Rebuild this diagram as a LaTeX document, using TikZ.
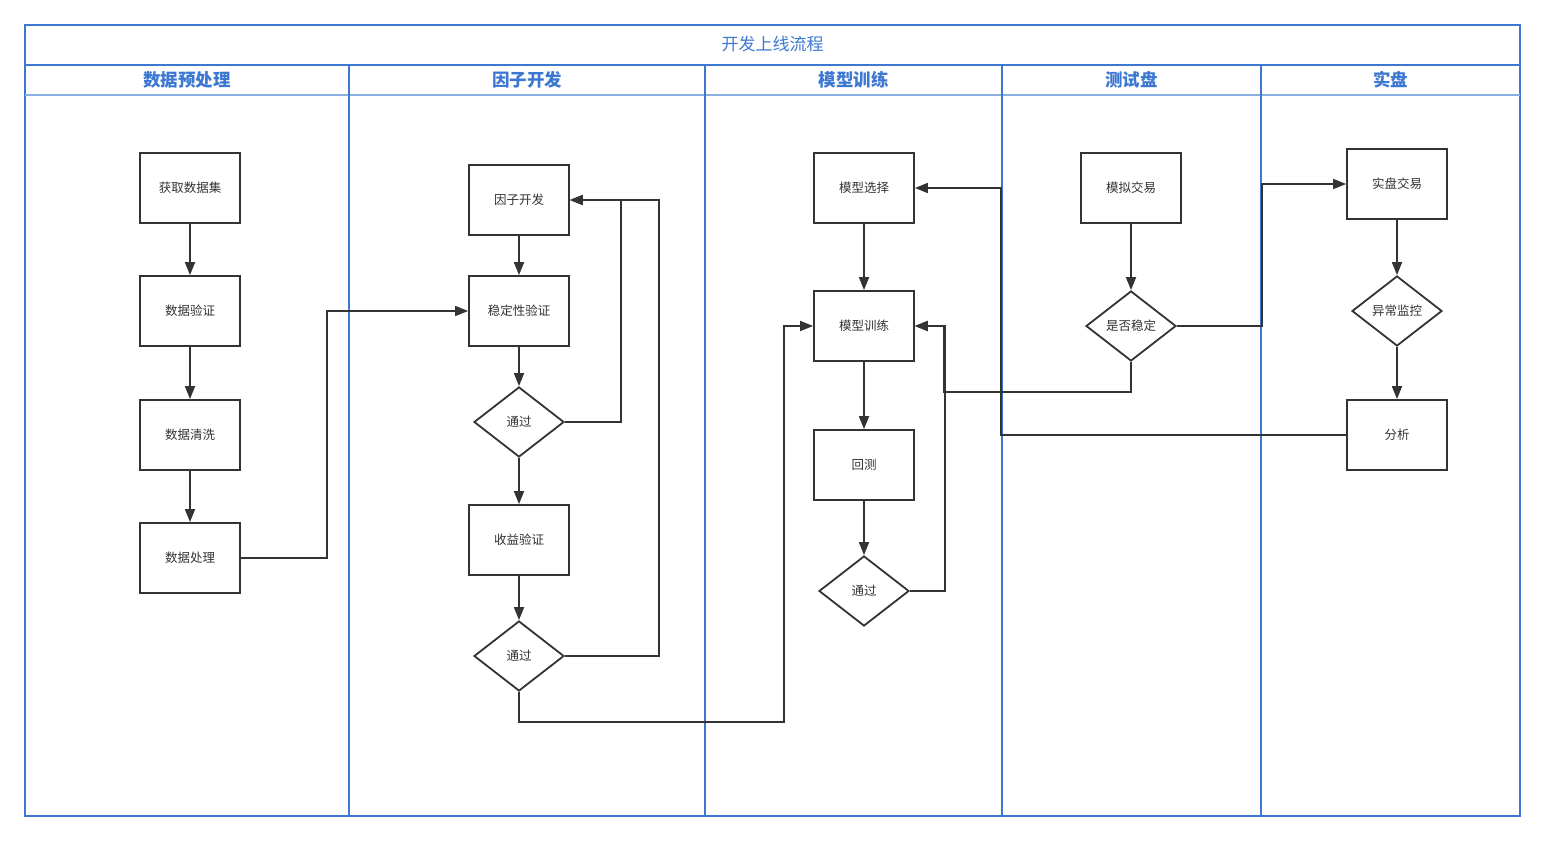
\documentclass[tikz,border=0pt]{standalone}
\usepackage{fontspec}
\setmainfont{Noto Sans CJK SC}
\usetikzlibrary{shapes.geometric,arrows.meta}
\definecolor{laneblue}{RGB}{60,120,210}
\definecolor{lanelight}{RGB}{140,175,225}
\definecolor{boxgray}{RGB}{51,51,51}
\tikzset{
  proc/.style={draw=boxgray,line width=1.8pt,minimum width=100pt,minimum height=70pt,
    text=boxgray,font=\fontsize{12.5}{14}\selectfont},
  test/.style={diamond,draw=boxgray,line width=1.8pt,minimum width=90pt,minimum height=70pt,
    inner sep=1pt,text=boxgray,font=\fontsize{12.5}{14}\selectfont},
  flow/.style={draw=boxgray,line width=1.8pt,-{Triangle[length=13pt,width=10pt]}},
  lanehead/.style={text=laneblue,font=\fontsize{17.5}{20}\selectfont\bfseries}
}

\begin{document}
\begin{tikzpicture}[x=1pt,y=-1pt]
  \useasboundingbox (0,0) rectangle (1545,842);
  % pool and lanes
  \draw[laneblue,line width=1.2pt] (25,25) rectangle (1520,816);
  \draw[laneblue,line width=1.2pt] (25,65) -- (1520,65);
  \draw[lanelight,line width=1.6pt] (25,95) -- (1520,95);
  \node[text=laneblue,font=\fontsize{17}{20}\selectfont] (pool) at (772.5,44) {开发上线流程};
  \foreach \x in {349,705,1002,1261}
    \draw[laneblue,line width=1.2pt] (\x,65) -- (\x,816);
  \foreach \l/\r/\t [count=\i] in {25/349/数据预处理, 349/705/因子开发, 705/1002/模型训练,
      1002/1261/测试盘, 1261/1520/实盘}
    \node[lanehead] (lane\i) at ({(\l+\r)/2},80) {\t};

  % steps
  \node[proc] (get)   at (190,188) {获取数据集};
  \node[proc] (check) at (190,311) {数据验证};
  \node[proc] (clean) at (190,435) {数据清洗};
  \node[proc] (prep)  at (190,558) {数据处理};

  \node[proc] (fdev)  at (519,200) {因子开发};
  \node[proc] (stab)  at (519,311) {稳定性验证};
  \node[test] (pass1) at (519,422) {通过};
  \node[proc] (ret)   at (519,540) {收益验证};
  \node[test] (pass2) at (519,656) {通过};

  \node[proc] (msel)   at (864,188) {模型选择};
  \node[proc] (mtrain) at (864,326) {模型训练};
  \node[proc] (btest)  at (864,465) {回测};
  \node[test] (pass3)  at (864,591) {通过};

  \node[proc] (sim)    at (1131,188) {模拟交易};
  \node[test] (stable) at (1131,326) {是否稳定};

  \node[proc] (real)    at (1397,184) {实盘交易};
  \node[test] (monitor) at (1397,311) {异常监控};
  \node[proc] (anal)    at (1397,435) {分析};

  % connectors
  \foreach \a/\b in {get/check, check/clean, clean/prep, fdev/stab, stab/pass1, pass1/ret,
      ret/pass2, msel/mtrain, mtrain/btest, btest/pass3, sim/stable, real/monitor, monitor/anal}
    \draw[flow] (\a) -- (\b);
  \draw[flow] (prep.east) -- ++(86,0) |- (stab.west);
  \draw[flow] (pass1.east) -- ++(56,0) |- (fdev.east);
  \draw[flow] (pass2.east) -- ++(94,0) |- (fdev.east);
  \draw[flow] (pass2.south) -- ++(0,30) -- ++(265,0) |- (mtrain.west);
  \draw[flow] (pass3.east) -- ++(35,0) |- (mtrain.east);
  \draw[flow] (stable.south) -- ++(0,30) -- ++(-187,0) |- (mtrain.east);
  \draw[flow] (stable.east) -- ++(85,0) |- (real.west);
  \draw[flow] (anal.west) -- ++(-345,0) |- (msel.east);
\end{tikzpicture}
\end{document}
